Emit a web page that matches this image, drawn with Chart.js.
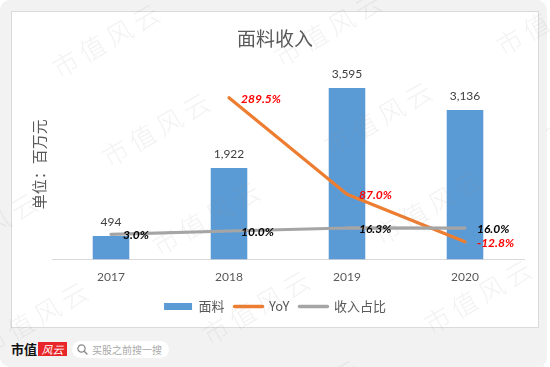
<!DOCTYPE html>
<html>
<head>
<meta charset="utf-8">
<script src="https://cdn.jsdelivr.net/npm/chart.js@4/dist/chart.umd.min.js"></script>
<style>
  html, body { margin: 0; padding: 0; background: #ffffff; }
  #stage { position: relative; width: 550px; height: 367px; overflow: hidden; }
  #bg { position: absolute; left: 0; top: 0; width: 547px; height: 367px; background: #f2f2f2; border-radius: 10px; }
  #card { position: absolute; left: 11px; top: 11px; width: 528px; height: 317px; background: #ffffff; border: 1px solid #dadada; box-sizing: border-box; }
  #chartWrap { position: absolute; left: 0; top: 0; width: 550px; height: 367px; }
  #wm { position: absolute; left: 0; top: 0; width: 550px; height: 367px; pointer-events: none; overflow: hidden; }
  .wm { position: absolute; font-family: "Noto Sans CJK SC", sans-serif; font-weight: 300; font-size: 26px; line-height: 26px; letter-spacing: 5px; color: rgba(150,150,150,0.12); white-space: nowrap; transform-origin: 13px 13px; transform: rotate(-30deg); }
  #logo { position: absolute; left: 11px; top: 341px; font-family: "Noto Sans CJK SC", sans-serif; font-weight: bold; font-size: 13px; line-height: 16px; color: #111; }
  #logoRed { position: absolute; left: 38px; top: 342px; width: 29px; height: 14px; background: #e8262a; color: #fff; font-family: "Noto Sans CJK SC", sans-serif; font-style: italic; font-size: 11px; line-height: 14px; text-align: center; }
  #pill { position: absolute; left: 72px; top: 341px; width: 97px; height: 17px; background: #ffffff; border-radius: 9px; }
  #pill svg { position: absolute; left: 5px; top: 3px; }
  #pillText { position: absolute; left: 20px; top: 0; font-family: "Noto Sans CJK SC", sans-serif; font-size: 10px; line-height: 17px; color: #a8a8a8; white-space: nowrap; }
</style>
</head>
<body>
<div id="stage">
  <div id="bg"></div>
  <div id="card"></div>
  <div id="logo">市值</div>
  <div id="logoRed">风云</div>
  <div id="pill">
    <svg width="11" height="11" viewBox="0 0 11 11"><circle cx="4.5" cy="4.5" r="3.6" fill="none" stroke="#8a8a8a" stroke-width="1.3"/><line x1="7.2" y1="7.2" x2="10" y2="10" stroke="#8a8a8a" stroke-width="1.4" stroke-linecap="round"/></svg>
    <div id="pillText">买股之前搜一搜</div>
  </div>
  <div id="chartWrap"><canvas id="c" width="550" height="367"></canvas></div>
  <div id="wm"></div>
</div>
<script>
// ---- data ----
const categories = ['2017', '2018', '2019', '2020'];
const fabricRevenue = [494, 1922, 3595, 3136];      // 面料, 百万元
const yoyGrowth = [null, 289.5, 87.0, -12.8];       // YoY, %
const revenueShare = [3.0, 10.0, 16.3, 16.0];       // 收入占比, %
const seriesNames = ['面料', 'YoY', '收入占比'];
const chartTitle = '面料收入';
const yAxisTitle = '单位：百万元';

// ---- watermarks ----
(function () {
  const wm = document.getElementById('wm');
  for (let i = -3; i <= 3; i++) {
    for (let j = -2; j <= 5; j++) {
      const x = 65 + 222 * i + 50 * j;
      const y = 63 - 11 * i + 89 * j;
      if (x < -150 || x > 600 || y < -60 || y > 430) continue;
      const s = document.createElement('div');
      s.className = 'wm';
      s.textContent = '市值风云';
      s.style.left = (x - 13) + 'px';
      s.style.top = (y - 13) + 'px';
      wm.appendChild(s);
    }
  }
})();

const COLORS = { bar: '#5B9BD5', yoy: '#ED7D31', share: '#A5A5A5' };
const labelColors = [null, '#FF0000', '#000000'];

const valueLabels = {
  id: 'valueLabels',
  afterDatasetsDraw(chart) {
    const ctx = chart.ctx;
    chart.data.datasets.forEach((ds, di) => {
      const meta = chart.getDatasetMeta(di);
      meta.data.forEach((el, i) => {
        const v = ds.data[i];
        if (v === null || v === undefined) return;
        ctx.save();
        if (di === 0) {
          ctx.font = '12px Lato, "Noto Sans", sans-serif';
          ctx.fillStyle = '#404040';
          ctx.textAlign = 'center';
          ctx.textBaseline = 'middle';
          ctx.fillText(v.toLocaleString('en-US'), el.x, el.y - 14);
        } else {
          ctx.font = 'italic bold 12px Lato, "Noto Sans", sans-serif';
          ctx.fillStyle = labelColors[di];
          ctx.textAlign = 'left';
          ctx.textBaseline = 'middle';
          ctx.fillText(v.toFixed(1) + '%', el.x + 12, el.y + 1);
        }
        ctx.restore();
      });
    });
  }
};

new Chart(document.getElementById('c'), {
  type: 'bar',
  data: {
    labels: categories,
    datasets: [
      {
        type: 'bar', label: seriesNames[0], data: fabricRevenue,
        backgroundColor: COLORS.bar, borderWidth: 0,
        barPercentage: 0.31, categoryPercentage: 1.0,
        yAxisID: 'y', order: 3
      },
      {
        type: 'line', label: seriesNames[1], data: yoyGrowth,
        borderColor: COLORS.yoy, backgroundColor: COLORS.yoy, borderWidth: 3.2,
        pointRadius: 0, tension: 0, borderCapStyle: 'round', borderJoinStyle: 'round',
        yAxisID: 'y2', order: 2
      },
      {
        type: 'line', label: seriesNames[2], data: revenueShare,
        borderColor: COLORS.share, backgroundColor: COLORS.share, borderWidth: 3.2,
        pointRadius: 0, tension: 0, borderCapStyle: 'round', borderJoinStyle: 'round',
        yAxisID: 'y2', order: 1
      }
    ]
  },
  options: {
    responsive: false,
    animation: false,
    devicePixelRatio: 1,
    layout: { padding: { left: 26, right: 26, top: 14, bottom: 44 } },
    plugins: {
      tooltip: { enabled: false },
      title: {
        display: true, text: chartTitle, color: '#595959',
        font: { family: '"Noto Sans CJK SC", sans-serif', size: 19, weight: 'normal' },
        padding: { top: 13, bottom: 19 }
      },
      legend: {
        position: 'bottom',
        labels: {
          usePointStyle: true, pointStyleWidth: 28, boxHeight: 7, padding: 10,
          color: '#595959',
          font: { family: '"Noto Sans CJK SC", sans-serif', size: 13 },
          generateLabels(chart) {
            return chart.data.datasets.map((ds, i) => ({
              text: ds.label,
              fillStyle: i === 0 ? ds.backgroundColor : 'rgba(0,0,0,0)',
              strokeStyle: i === 0 ? ds.backgroundColor : ds.borderColor,
              lineWidth: i === 0 ? 0 : 3.5,
              lineCap: 'round',
              pointStyle: i === 0 ? 'rect' : 'line',
              fontColor: '#595959',
              hidden: false,
              datasetIndex: i
            }));
          }
        }
      }
    },
    scales: {
      x: {
        grid: { display: false, drawTicks: false },
        border: { display: true, color: '#d9d9d9', width: 1 },
        ticks: { color: '#595959', padding: 10, font: { family: 'Lato, "Noto Sans", sans-serif', size: 12 } },
        afterFit(scale) { scale.height -= 4; }
      },
      y: {
        min: 0, max: 4000,
        grid: { display: false, drawTicks: false },
        border: { display: false },
        ticks: { display: false },
        title: {
          display: true, text: yAxisTitle, color: '#595959',
          font: { family: '"Noto Sans CJK SC", sans-serif', size: 15 },
          padding: { top: 4, bottom: 4 }
        }
      },
      y2: {
        position: 'right', min: -50, max: 350, display: false,
        grid: { display: false }
      }
    }
  },
  plugins: [valueLabels]
});
</script>
</body>
</html>
